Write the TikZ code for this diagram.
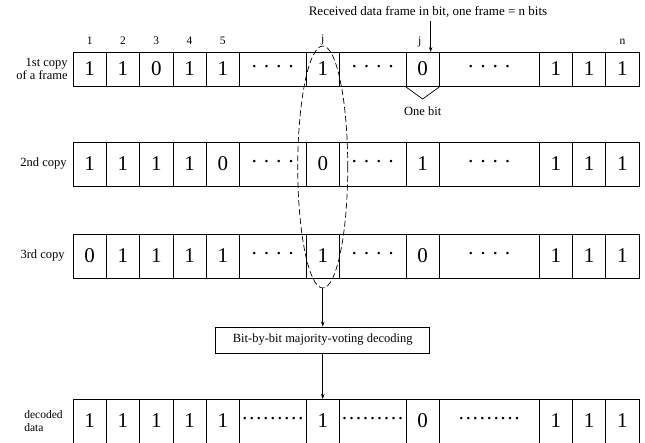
\documentclass[tikz,border=0pt]{standalone}
\usepackage{fontspec}
\setmainfont{Liberation Serif}
\usepackage{tikz}
\usetikzlibrary{arrows.meta,positioning,shapes.geometric}
\newcommand\fourdots{\textperiodcentered\ \textperiodcentered\ \textperiodcentered\ \textperiodcentered}
\newcommand\ninedots{\textperiodcentered\textperiodcentered\textperiodcentered\textperiodcentered\textperiodcentered\textperiodcentered\textperiodcentered\textperiodcentered\textperiodcentered}
\tikzset{
  bitcell/.style={draw, minimum height=#1, inner sep=0pt, outer sep=0pt, font=\fontsize{21}{21}\selectfont},
  rowlabel/.style={align=right, anchor=east, inner sep=0pt, font=\fontsize{12.5}{13}\selectfont},
  poslabel/.style={inner sep=0pt, text height=1.5ex, text depth=0.3ex, font=\fontsize{11.5}{11.5}\selectfont},
  votebox/.style={draw, minimum width=214pt, minimum height=26pt, inner sep=2pt, font=\fontsize{12.5}{12.5}\selectfont},
  votearrow/.style={-{Stealth[length=5pt,width=3.5pt]}}
}
\begin{document}
\begin{tikzpicture}[x=1pt, y=-1pt, line width=0.7pt]
\useasboundingbox (0,0) rectangle (645,443);
% the three received copies
\coordinate (r1c0) at (73,69);
\foreach \t/\w [count=\i, remember=\i as \j (initially 0)] in {1/1,1/1,0/1,1/1,1/1,\fourdots/2,1/1,\fourdots/2,0/1,\fourdots/3,1/1,1/1,1/1}
  \node[bitcell=34pt, minimum width=\w*33.3pt, right=0pt of r1c\j] (r1c\i) {\t};
\coordinate (r2c0) at (73,164);
\foreach \t/\w [count=\i, remember=\i as \j (initially 0)] in {1/1,1/1,1/1,1/1,0/1,\fourdots/2,0/1,\fourdots/2,1/1,\fourdots/3,1/1,1/1,1/1}
  \node[bitcell=44pt, minimum width=\w*33.3pt, right=0pt of r2c\j] (r2c\i) {\t};
\coordinate (r3c0) at (73,256);
\foreach \t/\w [count=\i, remember=\i as \j (initially 0)] in {0/1,1/1,1/1,1/1,1/1,\fourdots/2,1/1,\fourdots/2,0/1,\fourdots/3,1/1,1/1,1/1}
  \node[bitcell=44pt, minimum width=\w*33.3pt, right=0pt of r3c\j] (r3c\i) {\t};
% decoded frame
\coordinate (r4c0) at (73,421);
\foreach \t/\w [count=\i, remember=\i as \j (initially 0)] in {1/1,1/1,1/1,1/1,1/1,\ninedots/2,1/1,\ninedots/2,0/1,\ninedots/3,1/1,1/1,1/1}
  \node[bitcell=44pt, minimum width=\w*33.3pt, right=0pt of r4c\j] (r4c\i) {\t};

\node[rowlabel] (copy1) at ([xshift=-5pt]r1c1.west) {1st copy\\of a frame};
\node[rowlabel] (copy2) at ([xshift=-6pt]r2c1.west) {2nd copy};
\node[rowlabel] (copy3) at ([xshift=-8pt]r3c1.west) {3rd copy};
\node[rowlabel, align=left, font=\fontsize{11.5}{12.5}\selectfont] (decoded) at ([xshift=-10pt]r4c1.west) {decoded\\data};

\node[draw, dash pattern=on 6pt off 3pt, ellipse, minimum width=50pt, minimum height=242pt, inner sep=0pt] (vote) at ([yshift=-3pt]r2c7.center) {};

\foreach \k/\s in {1/1,2/2,3/3,4/4,5/5,13/n}
  \node[poslabel, above=6pt of r1c\k] (pos\k) {\s};
\node[poslabel, above=7pt of r1c7, fill=white, inner sep=0.5pt] (pos7) {j};
\node[poslabel, above=6pt of r1c9, xshift=-3pt] (pos9) {j};

\node[font=\fontsize{13}{13}\selectfont] (title) at (428,12) {Received data frame in bit, one frame = n bits};
\draw[votearrow] ([xshift=8pt]r1c9.north |- title.south) -- ([xshift=8pt]r1c9.north);

\draw ([yshift=-1pt]r1c9.south west) -- ([yshift=-13pt]r1c9.south) -- ([yshift=-1pt]r1c9.south east);
\node[font=\fontsize{12.5}{12.5}\selectfont, below=17pt of r1c9.south] (onebit) {One bit};

\node[votebox] (decoder) at (r4c7 |- 0,340) {Bit-by-bit majority-voting decoding};
\draw[votearrow] (vote.south) -- (decoder.north);
\draw[votearrow] (decoder.south) -- (r4c7.north);
\end{tikzpicture}
\end{document}
